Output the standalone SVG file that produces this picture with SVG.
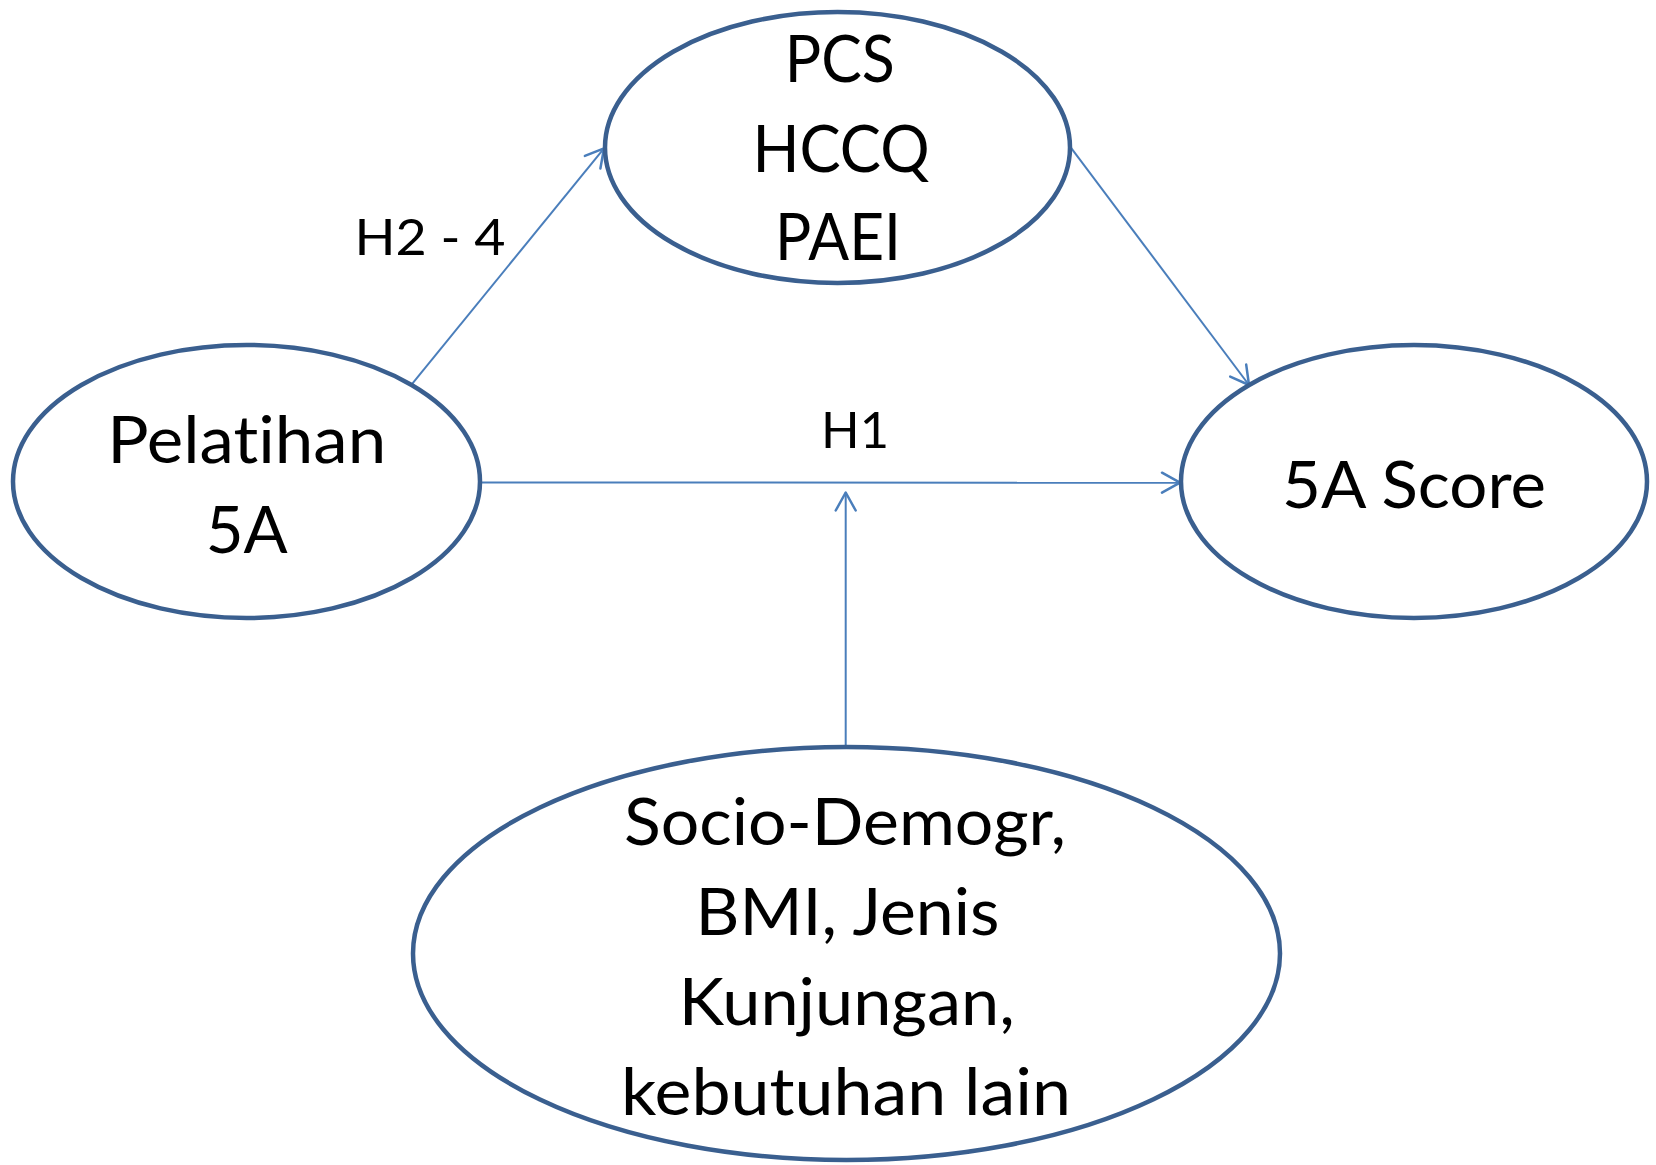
<svg xmlns="http://www.w3.org/2000/svg" width="1656" height="1165" viewBox="0 0 1656 1165">
<style>
.node ellipse{fill:#ffffff;stroke:#3a5f8f;stroke-width:4.5}
.node text{font-family:Lato,"Open Sans",sans-serif;font-size:65px;fill:#000;text-anchor:middle;font-variant-ligatures:none}
.lbl{font-family:Lato,"Open Sans",sans-serif;font-size:51px;fill:#000;text-anchor:middle;font-variant-ligatures:none}
.conn line{stroke:#4a7ebb;stroke-width:2;fill:none;marker-end:url(#arr)}
</style>
<defs>
<marker id="arr" markerUnits="userSpaceOnUse" viewBox="-20 -12 24 24" refX="0" refY="0" markerWidth="24" markerHeight="24" orient="auto">
<path d="M-18,-10 L0,0 L-18,10" fill="none" stroke="#4a7ebb" stroke-width="2.5" stroke-linecap="round" stroke-linejoin="round"/>
</marker>
</defs>
<g id="connectors" class="conn">
<line x1="410.7" y1="385.7" x2="604" y2="148.3"/>
<line x1="1070.7" y1="147.3" x2="1249" y2="385"/>
<line x1="480" y1="482.5" x2="1180" y2="482.7"/>
<line x1="845.7" y1="745" x2="845.7" y2="492.5"/>
</g>
<g id="label-h24"><text class="lbl" x="430" y="255" textLength="151" lengthAdjust="spacingAndGlyphs">H2 - 4</text></g>
<g id="label-h1"><text class="lbl" x="855" y="448" textLength="68" lengthAdjust="spacingAndGlyphs">H1</text></g>
<g id="node-mediators" class="node">
<ellipse cx="837.5" cy="147.5" rx="232.5" ry="135.5"/>
<text x="839.7" y="81.7" textLength="110" lengthAdjust="spacingAndGlyphs">PCS</text>
<text x="841" y="171.5" textLength="177" lengthAdjust="spacingAndGlyphs">HCCQ</text>
<text x="838" y="260" textLength="126" lengthAdjust="spacingAndGlyphs">PAEI</text>
</g>
<g id="node-pelatihan" class="node">
<ellipse cx="246.5" cy="481.5" rx="233.5" ry="136.5"/>
<text x="246.7" y="463.3" textLength="279" lengthAdjust="spacingAndGlyphs">Pelatihan</text>
<text x="246.7" y="552.7" textLength="82" lengthAdjust="spacingAndGlyphs">5A</text>
</g>
<g id="node-score" class="node">
<ellipse cx="1414" cy="481.5" rx="233" ry="136.5"/>
<text x="1414" y="508.3" textLength="264" lengthAdjust="spacingAndGlyphs">5A Score</text>
</g>
<g id="node-covariates" class="node">
<ellipse cx="846.5" cy="953.5" rx="433.5" ry="206.5"/>
<text x="845" y="845" textLength="442" lengthAdjust="spacingAndGlyphs">Socio-Demogr,</text>
<text x="847.5" y="935" textLength="304" lengthAdjust="spacingAndGlyphs">BMI, Jenis</text>
<text x="846.7" y="1025" textLength="336" lengthAdjust="spacingAndGlyphs">Kunjungan,</text>
<text x="846" y="1115" textLength="450" lengthAdjust="spacingAndGlyphs">kebutuhan lain</text>
</g>
</svg>
